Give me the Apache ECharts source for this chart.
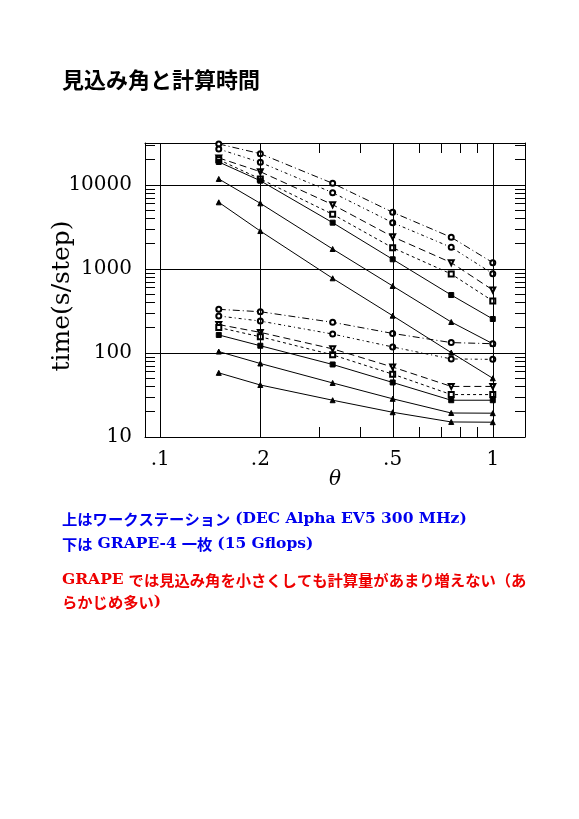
<!DOCTYPE html>
<html>
<head>
<meta charset="utf-8">
<script src="https://cdn.jsdelivr.net/npm/echarts@6/dist/echarts.min.js"></script>
<style>
html,body{margin:0;padding:0;background:#fff;}
#chart{width:579px;height:819px;}
</style>
</head>
<body>
<div id="chart"></div>
<script>
// ---- data ----
var thetaValues = [0.15, 0.2, 0.33, 0.5, 0.75, 1];

// upper group: workstation (DEC Alpha EV5 300 MHz)
var ws1 = [30800, 23600, 10470, 4730, 2385, 1190];
var ws2 = [26800, 18600, 8100, 3560, 1810, 880];
var ws3 = [21000, 14400, 5830, 2420, 1190, 562];
var ws4 = [20000, 11800, 4480, 1790, 872, 416];
var ws5 = [18800, 11250, 3560, 1305, 490, 254];
var ws6 = [11800, 6050, 1730, 628, 234, 129];
var ws7 = [6220, 2830, 775, 278, 101, 50];

// lower group: GRAPE-4 one board (15 Gflops)
var g1 = [331, 310, 232, 171, 133, 129];
var g2 = [276, 240, 168, 118, 85, 84];
var g3 = [218, 176, 112, 68, 40, 40];
var g4 = [201, 156, 95, 56, 32, 32];
var g5 = [164, 122, 73, 44.6, 27.4, 27.4];
var g6 = [104, 75, 44, 28.5, 19.3, 19.2];
var g7 = [58, 41.6, 27.4, 19.7, 15.1, 15];

var xTickValues = [0.1, 0.2, 0.5, 1];
var xTickLabels = ['.1', '.2', '.5', '1'];
var xMinorTicks = [0.3, 0.4, 0.6, 0.7, 0.8, 0.9];
var yTickValues = [10, 100, 1000, 10000];
var yTickLabels = ['10', '100', '1000', '10000'];
var yMinorTicks = [20,30,40,50,60,70,80,90,200,300,400,500,600,700,800,900,
                   2000,3000,4000,5000,6000,7000,8000,9000,20000,30000];
var xRange = [0.09, 1.25];
var yRange = [10, 31623];

var titleText = '見込み角と計算時間';
var yName = 'time(s/step)';
var xName = 'θ';

// ---- styles (not data) ----
var styles = [
  {type: [7, 3, 1, 3], symbol: 'emptyCircle', rotate: 0},
  {type: [3, 3, 1, 3], symbol: 'emptyCircle', rotate: 0},
  {type: [7, 4], symbol: 'emptyTriangle', rotate: 180},
  {type: [3, 3], symbol: 'emptyRect', rotate: 0},
  {type: 'solid', symbol: 'rect', rotate: 0},
  {type: 'solid', symbol: 'triangle', rotate: 0},
  {type: 'solid', symbol: 'triangle', rotate: 0}
];

var L = Math.log10;
function toPts(vals) {
  return thetaValues.map(function (t, i) { return [L(t), L(vals[i])]; });
}
function lookup(v, vals, labels) {
  for (var i = 0; i < vals.length; i++) {
    if (Math.abs(L(vals[i]) - v) < 1e-6) return labels[i];
  }
  return '';
}

var groups = [[ws1, ws2, ws3, ws4, ws5, ws6, ws7], [g1, g2, g3, g4, g5, g6, g7]];
var series = [];
groups.forEach(function (grp, gi) {
  grp.forEach(function (vals, si) {
    var st = styles[si];
    series.push({
      type: 'line',
      name: (gi === 0 ? 'WS' : 'GRAPE') + (si + 1),
      data: toPts(vals),
      symbol: st.symbol,
      symbolRotate: st.rotate,
      symbolSize: 5,
      showSymbol: true,
      silent: true,
      lineStyle: {color: '#000', width: 1, type: st.type},
      itemStyle: {color: '#000', borderColor: '#000', borderWidth: 1},
      z: 3
    });
  });
});
// major grid lines
series[0].markLine = {
  silent: true,
  symbol: ['none', 'none'],
  label: {show: false},
  lineStyle: {color: '#000', width: 1, type: 'solid'},
  emphasis: {disabled: true},
  data: xTickValues.map(function (v) { return {xAxis: L(v)}; })
        .concat(yTickValues.slice(1).map(function (v) { return {yAxis: L(v)}; }))
};

var serifFont = 'DejaVu Serif';
var cjk = 'Noto Sans CJK JP';

var noteRich = {
  c: {fontFamily: cjk, fontSize: 15.3, fontWeight: 'bold'},
  l: {fontFamily: serifFont, fontSize: 15.5, fontWeight: 'bold'}
};

var xAxisBase = {
  type: 'value',
  min: L(xRange[0]),
  max: L(xRange[1]),
  axisLine: {show: true, onZero: false, lineStyle: {color: '#000', width: 1}},
  splitLine: {show: false},
  axisTick: {show: true, inside: true, length: 10, lineStyle: {color: '#000'},
             customValues: xMinorTicks.map(L)}
};
var yAxisBase = {
  type: 'value',
  min: L(yRange[0]),
  max: L(yRange[1]),
  interval: 1,
  axisLine: {show: true, onZero: false, lineStyle: {color: '#000', width: 1}},
  splitLine: {show: false},
  axisTick: {show: true, inside: true, length: 10, lineStyle: {color: '#000'},
             customValues: yMinorTicks.map(L)}
};

var option = {
  animation: false,
  backgroundColor: '#fff',
  title: [
    {text: titleText, left: 57, top: 64,
     textStyle: {fontFamily: cjk, fontSize: 22, fontWeight: 'bold', color: '#000'}},
    {text: '{c|上はワークステーション} {l|(DEC Alpha EV5 300 MHz)}', left: 57, top: 505,
     textStyle: {color: '#0000ee', rich: noteRich}},
    {text: '{c|下は} {l|GRAPE-4} {c|一枚} {l|(15 Gflops)}', left: 57, top: 530,
     textStyle: {color: '#0000ee', rich: noteRich}},
    {text: '{l|GRAPE} {c|では見込み角を小さくしても計算量があまり増えない（あ}', left: 57, top: 566,
     textStyle: {color: '#ee0000', rich: noteRich}},
    {text: '{c|らかじめ多い}{l|)}', left: 57, top: 589,
     textStyle: {color: '#ee0000', rich: noteRich}}
  ],
  grid: {left: 145, right: 54, top: 143, bottom: 382, containLabel: false},
  xAxis: [
    Object.assign({}, xAxisBase, {
      position: 'bottom',
      name: xName, nameLocation: 'middle', nameGap: 33, nameMoveOverlap: false,
      nameTextStyle: {fontFamily: serifFont, fontStyle: 'italic', fontSize: 20, color: '#000'},
      axisLabel: {show: true, margin: 13, color: '#000', fontFamily: serifFont, fontSize: 20,
                  customValues: xTickValues.map(L),
                  formatter: function (v) { return lookup(v, xTickValues, xTickLabels); }}
    }),
    Object.assign({}, xAxisBase, {position: 'top', axisLabel: {show: false}})
  ],
  yAxis: [
    Object.assign({}, yAxisBase, {
      position: 'left',
      name: yName, nameLocation: 'middle', nameGap: 70, nameMoveOverlap: false,
      nameTextStyle: {fontFamily: serifFont, fontSize: 25, color: '#000', padding: [0, 12, 0, 0]},
      axisLabel: {show: true, margin: 13, color: '#000', fontFamily: serifFont, fontSize: 20,
                  customValues: yTickValues.map(L),
                  formatter: function (v) { return lookup(v, yTickValues, yTickLabels); }}
    }),
    Object.assign({}, yAxisBase, {position: 'right', axisLabel: {show: false}})
  ],
  series: series
};

var chart = echarts.init(document.getElementById('chart'), null, {renderer: 'canvas'});
chart.setOption(option);
</script>
</body>
</html>
